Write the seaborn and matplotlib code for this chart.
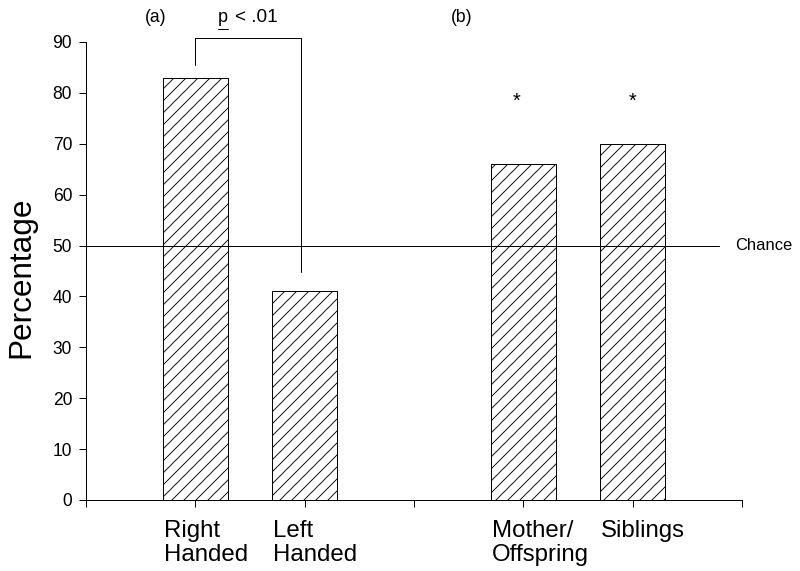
import matplotlib
matplotlib.use("Agg")
import matplotlib.pyplot as plt
import seaborn as sns
import pandas as pd

categories = ["Right Handed", "Left Handed", "Mother/Offspring", "Siblings"]
tick_labels = ["Right\nHanded", "Left\nHanded", "Mother/\nOffspring", "Siblings"]
values = [83, 41, 66, 70]
chance = 50
order = ["Right Handed", "Left Handed", " ", "Mother/Offspring", "Siblings"]

sns.set_style("ticks")
plt.rcParams['font.family'] = ['Liberation Sans', 'DejaVu Sans']
plt.rcParams['hatch.linewidth'] = 0.9
for k in ["text.color", "axes.labelcolor", "xtick.color", "ytick.color", "axes.edgecolor"]:
    plt.rcParams[k] = "black"

DPI = 72
fig = plt.figure(figsize=(800 / DPI, 571 / DPI), dpi=DPI)
ax = fig.add_axes([86 / 800, 71 / 571, 656 / 800, 458 / 571])

df = pd.DataFrame({"cat": categories, "val": values})
sns.barplot(data=df, x="cat", y="val", order=order, width=0.6,
            color="white", edgecolor="black", linewidth=1.0, ax=ax,
            errorbar=None)
for p in ax.patches:
    p.set_hatch("//")
    p.set_facecolor("white")
    p.set_edgecolor("black")

ax.set_xlim(-1, 5)
ax.set_ylim(0, 90)
ax.set_yticks(range(0, 91, 10))
ax.set_xticks(range(-1, 6))
ax.set_xticklabels([])
ax.set_xlabel("")
ax.set_ylabel("")
ax.tick_params(axis="y", labelsize=17.5, length=7, width=1, direction="out", pad=7)
ax.tick_params(axis="x", length=7, width=1, direction="out")
for s in ["top", "right"]:
    ax.spines[s].set_visible(False)
for s in ["left", "bottom"]:
    ax.spines[s].set_linewidth(1.0)

# category labels, left aligned at bar left edge
pos = [order.index(c) for c in categories]
for i, lab in zip(pos, tick_labels):
    ax.text(i - 0.29, -4.0, lab, ha="left", va="top", fontsize=24,
            linespacing=1.12, clip_on=False)

# chance line
ax.plot([-1, 4.79], [chance, chance], color="black", lw=1.0, clip_on=False)
ax.text(4.94, chance, "Chance", ha="left", va="center", fontsize=16.5, clip_on=False)

# bracket
ax.plot([0, 0, 0.97, 0.97], [85.5, 90.8, 90.8, 44.8], color="black", lw=1.0, clip_on=False)
ax.text(0.205, 94.9, "p", ha="left", va="center", fontsize=18, clip_on=False)
ax.plot([0.205, 0.295], [92.6, 92.6], color="black", lw=1.0, clip_on=False)
ax.text(0.365, 94.9, "< .01", ha="left", va="center", fontsize=19, clip_on=False)

ax.text(-0.36, 94.9, "(a)", ha="center", va="center", fontsize=17.5, clip_on=False)
ax.text(2.44, 94.9, "(b)", ha="center", va="center", fontsize=17.5, clip_on=False)

for x, dx in zip([pos[2], pos[3]], [-0.06, 0.0]):
    ax.text(x + dx, 78.3, "*", ha="center", va="center", fontsize=20, clip_on=False)

fig.text(21 / 800, 0.515, "Percentage", rotation=90, ha="center", va="center", fontsize=31.5)

fig.savefig("out.png", dpi=DPI)
